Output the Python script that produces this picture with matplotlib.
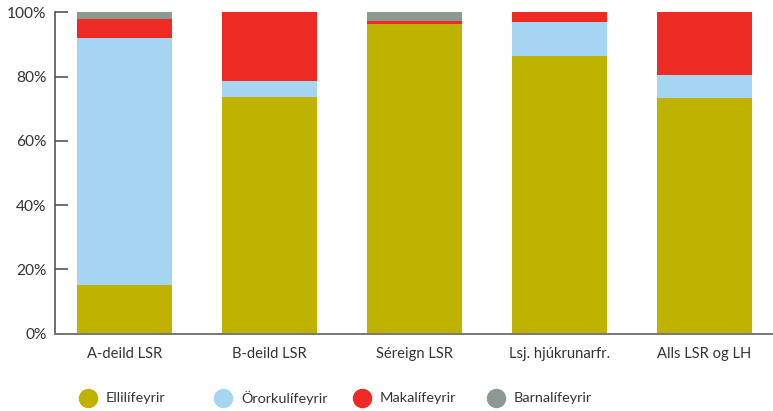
import matplotlib
matplotlib.use("Agg")
import matplotlib.pyplot as plt
from matplotlib.lines import Line2D
import numpy as np

plt.rcParams['font.family'] = ['Lato', 'DejaVu Sans']

funds = ["A-deild LSR", "B-deild LSR", "Séreign LSR", "Lsj. hjúkrunarfr.", "Alls LSR og LH"]
series = ["Ellilífeyrir", "Örorkulífeyrir", "Makalífeyrir", "Barnalífeyrir"]
colors = ["#C0B300", "#A6D5F2", "#EE2A24", "#8C9A8F"]

# share of payments in percent, per fund
elli = [15.1, 73.8, 96.3, 86.3, 73.5]
ororku = [77.1, 5.0, 0.0, 10.6, 6.9]
maka = [5.9, 21.2, 1.2, 3.1, 19.6]
barna = [1.9, 0.0, 2.5, 0.0, 0.0]
values = [elli, ororku, maka, barna]

fig = plt.figure(figsize=(7.73, 4.11), dpi=100)
ax = fig.add_axes([55/773, 1 - 333.5/411, 1 - 55/773, 321/411])

x = np.arange(len(funds))
bottom = np.zeros(len(funds))
for vals, col, name in zip(values, colors, series):
    ax.bar(x, vals, width=0.655, bottom=bottom, color=col, label=name, linewidth=0)
    bottom += np.array(vals)

ax.set_xlim(-0.479, 4.472)
ax.set_ylim(0, 100)
ax.set_yticks([0, 20, 40, 60, 80, 100])
ax.set_yticklabels([f"{v}%" for v in range(0, 101, 20)])
ax.set_xticks(x)
ax.set_xticklabels(funds)

for s in ["top", "right"]:
    ax.spines[s].set_visible(False)
ax.spines["left"].set_color("#555555")
ax.spines["left"].set_linewidth(1.2)
ax.spines["bottom"].set_color("#777777")
ax.spines["bottom"].set_linewidth(1.4)

ax.tick_params(axis="y", direction="in", length=9, width=1.2, color="#555555",
               labelsize=11.2, labelcolor="#333333", pad=6)
ax.tick_params(axis="x", length=0, labelsize=10.6, labelcolor="#333333", pad=10)

# legend row
leg_x = [88, 223, 362, 496]
for px, col, name in zip(leg_x, colors, series):
    fig.add_artist(Line2D([px / 773], [1 - 398 / 411], marker="o", markersize=13,
                          color=col, linestyle="none", transform=fig.transFigure))
    fig.text((px + 18) / 773, 1 - 398 / 411, name, fontsize=10.4, color="#333333",
             va="center", ha="left")

fig.savefig("out.png", dpi=100)
